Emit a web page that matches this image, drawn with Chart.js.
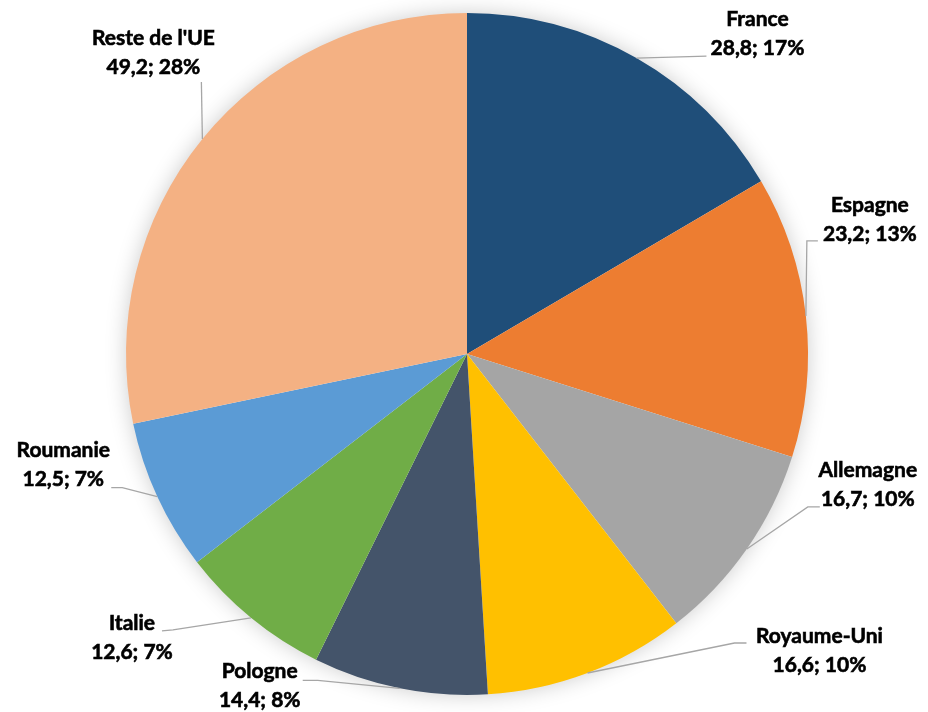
<!DOCTYPE html>
<html>
<head>
<meta charset="utf-8">
<script src="https://cdn.jsdelivr.net/npm/chart.js@4"></script>
<style>
  html, body { margin: 0; padding: 0; background: #fff; }
  #box { width: 928px; height: 712px; }
</style>
</head>
<body>
<div id="box"><canvas id="pie"></canvas></div>
<script>
const countries = ['France', 'Espagne', 'Allemagne', 'Royaume-Uni', 'Pologne', 'Italie', 'Roumanie', "Reste de l'UE"];
const values = [28.8, 23.2, 16.7, 16.6, 14.4, 12.6, 12.5, 49.2];
const percents = ['17%', '13%', '10%', '10%', '8%', '7%', '7%', '28%'];
const colors = ['#1F4E79', '#ED7D31', '#A5A5A5', '#FFC000', '#44546A', '#70AD47', '#5B9BD5', '#F4B183'];

// label placement, relative to the point where the slice's mid-angle hits the edge
// [label dx, label dy, knee dx, knee dy, tip dx, tip dy]
const labelLayout = [
  [121, -24, 70, -2, 70, -2],
  [64, -96, 1, -75, 12, -75],
  [121, -64, 61, -42, 73, -42],
  [232, -22, 147, -30, 159, -30],
  [-140, -3, -82, -8, -97, -8],
  [-119, 20, -78, 12, -89, 13],
  [-94, -32, -35, -9, -46, -9],
  [-49, -86, -1, -57, -1, -57]
];

const fmt = v => v.toFixed(1).replace('.', ',');

const shadow = {
  id: 'shadow',
  beforeDatasetsDraw(chart) {
    const arc = chart.getDatasetMeta(0).data[0];
    if (!arc) return;
    const ctx = chart.ctx;
    ctx.save();
    ctx.shadowColor = 'rgba(0,0,0,0.22)';
    ctx.shadowBlur = 22;
    ctx.fillStyle = '#fff';
    ctx.beginPath();
    ctx.arc(arc.x, arc.y, arc.outerRadius - 1, 0, Math.PI * 2);
    ctx.fill();
    ctx.restore();
  }
};

const leaders = {
  id: 'leaders',
  afterDatasetsDraw(chart) {
    const ctx = chart.ctx;
    const meta = chart.getDatasetMeta(0);
    ctx.save();
    meta.data.forEach((arc, i) => {
      const mid = (arc.startAngle + arc.endAngle) / 2;
      const ex = arc.x + Math.cos(mid) * arc.outerRadius;
      const ey = arc.y + Math.sin(mid) * arc.outerRadius;
      const [lx, ly, kx, ky, tx, ty] = labelLayout[i];
      ctx.strokeStyle = '#A6A6A6';
      ctx.lineWidth = 1.3;
      ctx.beginPath();
      ctx.moveTo(ex, ey);
      ctx.lineTo(ex + kx, ey + ky);
      ctx.lineTo(ex + tx, ey + ty);
      ctx.stroke();
      ctx.fillStyle = '#000';
      ctx.strokeStyle = '#000';
      ctx.lineWidth = 0.6;
      ctx.font = 'bold 21px Lato';
      ctx.textAlign = 'center';
      ctx.textBaseline = 'middle';
      const l1 = countries[i];
      const l2 = fmt(values[i]) + '; ' + percents[i];
      ctx.fillText(l1, ex + lx, ey + ly - 14.5);
      ctx.strokeText(l1, ex + lx, ey + ly - 14.5);
      ctx.fillText(l2, ex + lx, ey + ly + 14.5);
      ctx.strokeText(l2, ex + lx, ey + ly + 14.5);
    });
    ctx.restore();
  }
};

new Chart(document.getElementById('pie'), {
  type: 'pie',
  data: {
    labels: countries,
    datasets: [{
      data: values,
      backgroundColor: colors,
      borderWidth: 0
    }]
  },
  options: {
    responsive: true,
    maintainAspectRatio: false,
    animation: false,
    layout: { padding: { left: 126, right: 120, top: 13, bottom: 17 } },
    plugins: {
      legend: { display: false },
      tooltip: { enabled: false }
    }
  },
  plugins: [shadow, leaders]
});
</script>
</body>
</html>
